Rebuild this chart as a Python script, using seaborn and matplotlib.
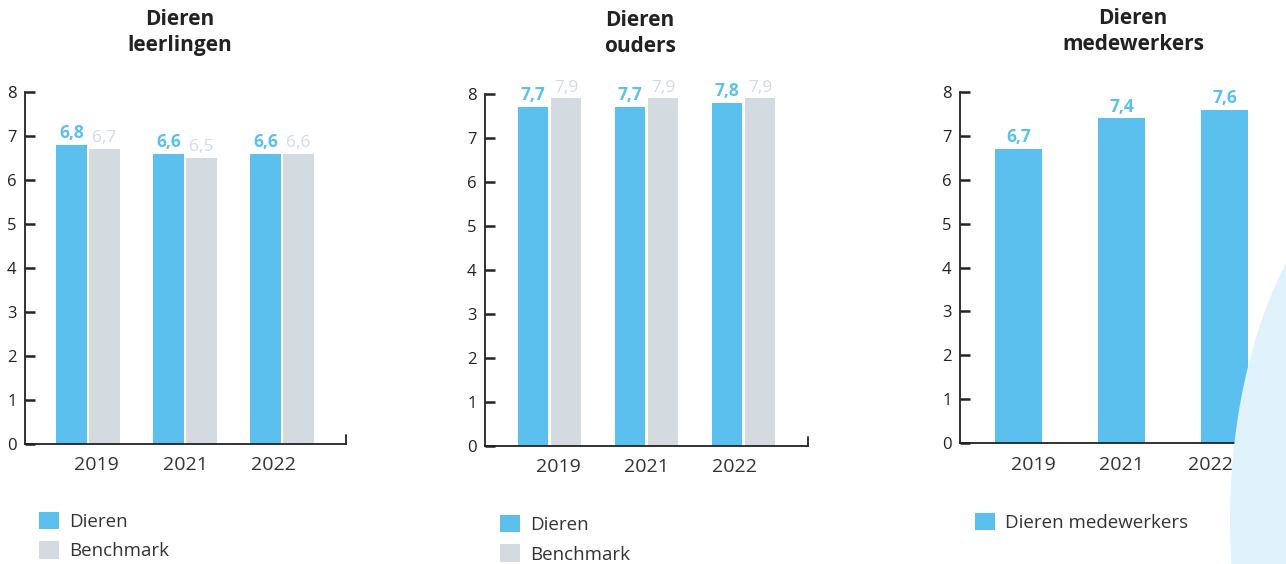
import pandas as pd
import seaborn as sbn
import matplotlib.pyplot as plt
from matplotlib.patches import Ellipse, Patch

# data
jaren = ["2019", "2021", "2022"]
leerlingen_dieren = [6.8, 6.6, 6.6]
leerlingen_benchmark = [6.7, 6.5, 6.6]
ouders_dieren = [7.7, 7.7, 7.8]
ouders_benchmark = [7.9, 7.9, 7.9]
medewerkers_dieren = [6.7, 7.4, 7.6]

blauw = "#5bc0ed"
grijs = "#d3dbe1"

sbn.set_style("white")
plt.rcParams["font.family"] = ["Open Sans", "DejaVu Sans"]

W, H = 1286, 564
fig = plt.figure(figsize=(W / 100, H / 100), dpi=100)

# lichtblauwe vorm rechtsonder
fig.patches.append(Ellipse((14.30, 0.44), 4.0, 7.4, transform=fig.dpi_scale_trans,
                           facecolor="#e0f2fb", edgecolor="none", zorder=0))


def px_axes(x0, x1, y_top, y_bot):
    return fig.add_axes([x0 / W, (H - y_bot) / H, (x1 - x0) / W, (y_bot - y_top) / H])


def fmt(v):
    return f"{v:.1f}".replace(".", ",")


def opmaak(ax, xlim, shift):
    ax.set_facecolor("none")
    ax.set_ylim(0, 8)
    ax.set_xlim(*xlim)
    ax.set_yticks(range(9))
    ax.set_xticks([0 + shift, 1, 2 - shift])
    ax.set_xticklabels(jaren, fontsize=14, color="#333333")
    ax.tick_params(axis="y", left=True, direction="in", length=7, width=1.8, labelsize=12,
                   colors="#222222", pad=6, labelcolor="#222222")
    ax.tick_params(axis="x", bottom=False, length=0, pad=9)
    for s in ["top", "right"]:
        ax.spines[s].set_visible(False)
    for s in ["left", "bottom"]:
        ax.spines[s].set_color("#222222")
        ax.spines[s].set_linewidth(1.3)
    ax.plot([1, 1], [0, 0.025], transform=ax.transAxes, color="#222222", lw=1.3, clip_on=False)
    ax.set_xlabel("")
    ax.set_ylabel("")


# paneel 1 en 2: Dieren vs Benchmark
panelen = [
    (leerlingen_dieren, leerlingen_benchmark, (25, 346, 92, 444), (-0.65, 2.66)),
    (ouders_dieren, ouders_benchmark, (485, 808, 94, 446), (-0.665, 2.665)),
]
for dieren, bench, (x0, x1, yt, yb), xlim in panelen:
    ax = px_axes(x0, x1, yt, yb)
    df = pd.DataFrame({
        "jaar": jaren * 2,
        "score": dieren + bench,
        "groep": ["Dieren"] * 3 + ["Benchmark"] * 3,
    })
    sbn.barplot(data=df, x="jaar", y="score", hue="groep", palette=[blauw, grijs],
                width=0.68, gap=0.08, legend=False, ax=ax, saturation=1, linewidth=0)
    ax.bar_label(ax.containers[0], labels=[fmt(v) for v in dieren], padding=2,
                 fontsize=12.5, fontweight="bold", color=blauw)
    ax.bar_label(ax.containers[1], labels=[fmt(v) for v in bench], padding=2,
                 fontsize=12.5, color=grijs)
    opmaak(ax, xlim, 0.09)

# paneel 3: medewerkers
ax3 = px_axes(960, 1282, 92, 443)
df3 = pd.DataFrame({"jaar": jaren, "score": medewerkers_dieren})
sbn.barplot(data=df3, x="jaar", y="score", color=blauw, width=0.456, ax=ax3,
            saturation=1, linewidth=0)
ax3.bar_label(ax3.containers[0], labels=[fmt(v) for v in medewerkers_dieren], padding=2,
              fontsize=12.5, fontweight="bold", color=blauw)
opmaak(ax3, (-0.568, 2.558), 0.14)

# titels
titels = [("Dieren\nleerlingen", 180, 9), ("Dieren\nouders", 640, 10), ("Dieren\nmedewerkers", 1133, 8)]
for t, x, y in titels:
    fig.text(x / W, 1 - y / H, t, ha="center", va="top", fontsize=15, fontweight="bold",
             color="#222222", linespacing=1.3)

# legendes
def legende(items, x, y):
    handles = [Patch(facecolor=c, edgecolor="none") for _, c in items]
    fig.legend(handles, [l for l, _ in items], loc="upper left",
               bbox_to_anchor=(x / W, 1 - y / H), frameon=False, fontsize=13.5,
               handlelength=1.05, handleheight=1.05, handletextpad=0.55,
               labelspacing=0.55, borderaxespad=0, borderpad=0,
               labelcolor="#333333")

legende([("Dieren", blauw), ("Benchmark", grijs)], 39, 512)
legende([("Dieren", blauw), ("Benchmark", grijs)], 500, 515)
legende([("Dieren medewerkers", blauw)], 975, 513)

fig.savefig("out.png", dpi=100)
